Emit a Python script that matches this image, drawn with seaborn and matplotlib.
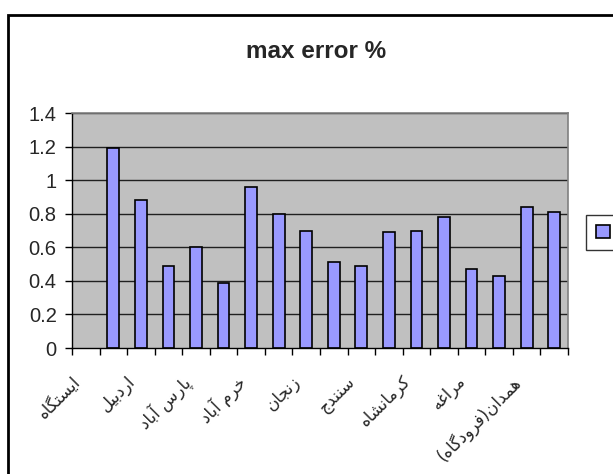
import numpy as np
import matplotlib
matplotlib.use("Agg")
import matplotlib.pyplot as plt
from matplotlib.patches import Rectangle, Patch
from matplotlib.ticker import FuncFormatter
from matplotlib.transforms import ScaledTranslation
import seaborn as sns

# --- data ---
positions = list(range(18))
station_labels = ['ایستگاه', '', 'اردبیل', '', 'پارس آباد', '', 'خرم آباد', '',
                  'زنجان', '', 'سنندج', '', 'کرمانشاه', '', 'مراغه', '',
                  'همدان(فرودگاه)', '']
max_error = [np.nan, 1.19, 0.88, 0.49, 0.60, 0.39, 0.96, 0.80, 0.70,
             0.51, 0.49, 0.69, 0.70, 0.78, 0.47, 0.43, 0.84, 0.81]
y_ticks = [0, 0.2, 0.4, 0.6, 0.8, 1.0, 1.2, 1.4]

# matplotlib has no Arabic shaping, so pick presentation forms and reverse
FORMS = {  # isolated, final, initial, medial
    'ا': ('\uFE8D', '\uFE8E'), 'آ': ('\uFE81', '\uFE82'),
    'د': ('\uFEA9', '\uFEAA'), 'ر': ('\uFEAD', '\uFEAE'),
    'ز': ('\uFEAF', '\uFEB0'), 'و': ('\uFEED', '\uFEEE'),
    'ب': ('\uFE8F', '\uFE90', '\uFE91', '\uFE92'),
    'پ': ('\uFB56', '\uFB57', '\uFB58', '\uFB59'),
    'ت': ('\uFE95', '\uFE96', '\uFE97', '\uFE98'),
    'ج': ('\uFE9D', '\uFE9E', '\uFE9F', '\uFEA0'),
    'خ': ('\uFEA5', '\uFEA6', '\uFEA7', '\uFEA8'),
    'س': ('\uFEB1', '\uFEB2', '\uFEB3', '\uFEB4'),
    'ش': ('\uFEB5', '\uFEB6', '\uFEB7', '\uFEB8'),
    'غ': ('\uFECD', '\uFECE', '\uFECF', '\uFED0'),
    'ف': ('\uFED1', '\uFED2', '\uFED3', '\uFED4'),
    'ک': ('\uFB8E', '\uFB8F', '\uFB90', '\uFB91'),
    'گ': ('\uFB92', '\uFB93', '\uFB94', '\uFB95'),
    'ل': ('\uFEDD', '\uFEDE', '\uFEDF', '\uFEE0'),
    'م': ('\uFEE1', '\uFEE2', '\uFEE3', '\uFEE4'),
    'ن': ('\uFEE5', '\uFEE6', '\uFEE7', '\uFEE8'),
    'ه': ('\uFEE9', '\uFEEA', '\uFEEB', '\uFEEC'),
    'ی': ('\uFBFC', '\uFBFD', '\uFBFE', '\uFBFF'),
}
MIRROR = {'(': ')', ')': '('}


def shape(text):
    out = []
    for i, ch in enumerate(text):
        if ch not in FORMS:
            out.append(MIRROR.get(ch, ch))
            continue
        prev = text[i - 1] if i > 0 else ''
        nxt = text[i + 1] if i + 1 < len(text) else ''
        join_prev = prev in FORMS and len(FORMS[prev]) == 4
        join_next = len(FORMS[ch]) == 4 and nxt in FORMS
        f = FORMS[ch]
        if join_prev and join_next:
            out.append(f[3])
        elif join_prev:
            out.append(f[1])
        elif join_next:
            out.append(f[2])
        else:
            out.append(f[0])
    return ''.join(reversed(out))


sns.set_style("white")
plt.rcParams['font.family'] = ['Liberation Sans', 'DejaVu Sans']

fig = plt.figure(figsize=(6.13, 4.74), dpi=100)
ax = fig.add_axes([72 / 613, 1 - 348 / 474, 496 / 613, 235 / 474])
ax.set_facecolor('#C0C0C0')

for y in y_ticks[1:]:
    ax.axhline(y, color='#202020', lw=1.0, zorder=0.5)

sns.barplot(x=positions, y=max_error, order=positions, color='#9999FF',
            saturation=1, edgecolor='black', linewidth=1.2, width=0.43,
            errorbar=None, ax=ax, zorder=2)

ax.set_xlim(-0.5, 17.5)
ax.set_ylim(0, 1.4)
ax.set_yticks(y_ticks)
ax.yaxis.set_major_formatter(FuncFormatter(lambda v, p: '%g' % round(v, 1)))
ax.tick_params(axis='y', direction='out', length=5, width=1, color='black',
               left=True, labelsize=14.5, pad=6)

ax.set_xticks(np.arange(-0.5, 18, 1))
ax.set_xticklabels([])
ax.tick_params(axis='x', which='major', direction='out', length=5, width=1,
               color='black', bottom=True)
ax.set_xticks(positions, [shape(s) for s in station_labels], minor=True,
              rotation=45, ha='right', rotation_mode='anchor',
              fontfamily='DejaVu Sans', fontsize=12)
ax.tick_params(axis='x', which='minor', length=0, pad=16)
shift = ScaledTranslation(-15 / 100, -2 / 100, fig.dpi_scale_trans)
for lab in ax.get_xticklabels(minor=True):
    lab.set_transform(lab.get_transform() + shift)
ax.set_xlabel('')
ax.set_ylabel('')

for side in ['top', 'right']:
    ax.spines[side].set_color('#808080')
    ax.spines[side].set_linewidth(1.2)
for side in ['left', 'bottom']:
    ax.spines[side].set_color('black')
    ax.spines[side].set_linewidth(1.0)

fig.text(316 / 613, 1 - 51 / 474, 'max error %', ha='center', va='center',
         fontsize=17.5, fontweight='bold')

leg = fig.legend(handles=[Patch(facecolor='#9999FF', edgecolor='black', lw=1.2)],
                 labels=[' '], loc='upper left',
                 bbox_to_anchor=(586 / 613, 1 - 215 / 474), frameon=True,
                 fancybox=False, handlelength=0.85, handleheight=0.85,
                 borderpad=0.6, handletextpad=0.4, borderaxespad=0,
                 fontsize=12)
leg.get_frame().set_edgecolor('black')
leg.get_frame().set_linewidth(1.0)

# chart area border (right and bottom edges run off the picture)
fig.patches.append(Rectangle((8 / 613, -0.1), 1.2, 1 - 15 / 474 + 0.1,
                             transform=fig.transFigure, fill=False,
                             edgecolor='black', lw=2.0))

fig.savefig('out.png', dpi=100)
